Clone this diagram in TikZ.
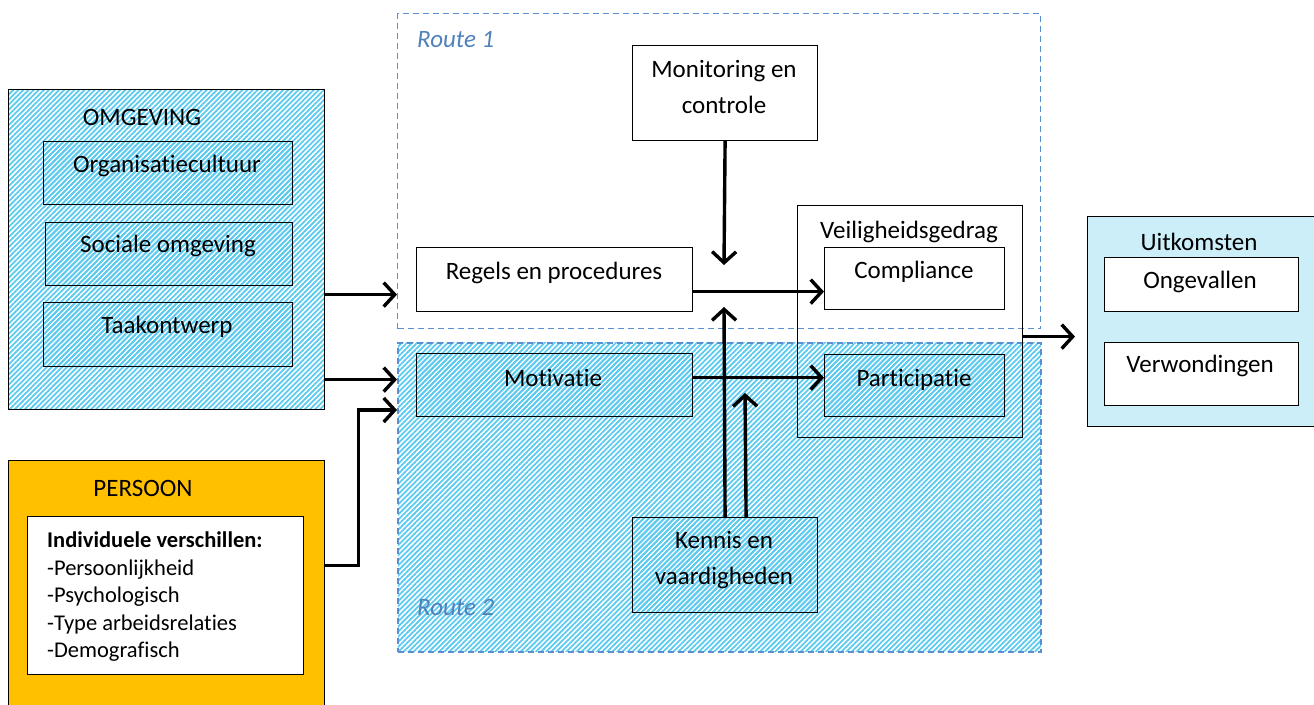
\documentclass[tikz,border=0pt]{standalone}
\usepackage{fontspec}
\setmainfont{Carlito}[RawFeature=-liga]
\usetikzlibrary{arrows.meta,patterns.meta}
\definecolor{hatchblue}{HTML}{5CCAEE}
\definecolor{routeblue}{HTML}{5B8FD2}
\definecolor{routetext}{HTML}{4F81BD}
\definecolor{persoonfill}{HTML}{FFC000}
\definecolor{uitfill}{HTML}{CCEEF9}
\tikzset{
  hatched/.style={pattern={Lines[angle=45,distance=3.6pt,line width=1.8pt]},pattern color=hatchblue},
  box/.style={draw=black,line width=1.2pt,inner sep=0pt,anchor=north west},
  whitebox/.style={box,fill=white},
  hatchbox/.style={box,hatched},
  routebox/.style={draw=routeblue,line width=1.3pt,dash pattern=on 6pt off 4pt,inner sep=0pt,anchor=north west},
  routelabel/.style={font=\fontsize{25}{30}\selectfont\itshape,text=routetext,anchor=west,inner sep=0pt},
  txt/.style={font=\fontsize{25}{36}\selectfont,inner sep=0pt},
  listtxt/.style={font=\fontsize{22.5}{27.5}\selectfont,inner sep=0pt,align=left,anchor=north west},
  flow/.style={line width=3.4pt,-{Straight Barb[length=11pt,width=24pt,line width=3.4pt]}},
}
% box node: style, x, y (top left), width, height, name
\newcommand{\bx}[6]{\node[#1,minimum width=#4pt,minimum height=#5pt] (#6) at (#2,#3) {};}
\begin{document}
\begin{tikzpicture}[x=1pt,y=-1pt]
\useasboundingbox (0,0) rectangle (1314,704);

% Route 2 (hatched) and Route 1 (open) regions
\bx{routebox,hatched}{397}{342}{643}{309}{r2}
\bx{routebox}{397}{13}{643}{315}{r1}
\node[routelabel] (r1lab) at (417,40) {Route 1};
\node[routelabel] (r2lab) at (417,607) {Route 2};

% OMGEVING group
\bx{hatchbox}{8}{89}{316}{320}{omg}
\node[txt] (omgt) at (142,117) {OMGEVING};
\bx{hatchbox}{43}{141}{249}{63}{org}
\node[txt] (orgt) at (167,166) {Organisatiecultuur};
\bx{hatchbox}{45}{222}{247}{63}{soc}
\node[txt] (soct) at (168,246) {Sociale omgeving};
\bx{hatchbox}{43}{302}{249}{64}{taak}
\node[txt] (taakt) at (167,327) {Taakontwerp};

% PERSOON group
\bx{box,fill=persoonfill}{8}{460}{316}{252}{pers}
\node[txt] (perst) at (143,488) {PERSOON};
\bx{whitebox}{27}{516}{276}{158}{ind}
\node[listtxt] (indt) at (47,532) {\textbf{Individuele verschillen:}\\-Persoonlijkheid\\-Psychologisch\\-Type arbeidsrelaties\\-Demografisch};

% Route boxes
\bx{whitebox}{632}{45}{185}{95}{mon}
\node[txt,align=center] (mont) at (724,87) {Monitoring en\\controle};
\bx{whitebox}{416}{247}{276}{64}{reg}
\node[txt] (regt) at (554,273) {Regels en procedures};
\bx{hatchbox}{416}{353}{276}{63}{mot}
\node[txt] (mott) at (553,378) {Motivatie};
\bx{hatchbox}{632}{517}{185}{95}{ken}
\node[txt,align=center] (kent) at (724,560) {Kennis en\\vaardigheden};

% Veiligheidsgedrag
\bx{box}{797}{205}{225}{232}{veil}
\node[txt] (veilt) at (909,232) {Veiligheidsgedrag};
\bx{whitebox}{824}{247}{180}{62}{comp}
\node[txt] (compt) at (914,272) {Compliance};
\bx{hatchbox}{824}{354}{180}{62}{part}
\node[txt] (partt) at (914,380) {Participatie};

% Uitkomsten
\bx{box,fill=uitfill}{1087}{216}{227}{210}{uit}
\node[txt] (uitt) at (1199,242) {Uitkomsten};
\bx{whitebox}{1104}{257}{194}{54}{ong}
\node[txt] (ongt) at (1200,282) {Ongevallen};
\bx{whitebox}{1104}{342}{194}{63}{ver}
\node[txt] (vert) at (1200,366) {Verwondingen};

% Connectors
\coordinate (montip) at (724,265);
\coordinate (kentip) at (724,307);
\coordinate (kentip2) at (745,393);
\draw[flow] ([yshift=-45pt]omg.east) -- ([yshift=-45pt]omg.east -| r1.west);
\draw[flow] ([yshift=-130pt]omg.east) -- ([yshift=-130pt]omg.east -| r2.west);
\draw[flow] ([yshift=21pt]pers.east) -- ++(33,0) |- ([yshift=-68pt]r2.north west);
\draw[flow] (mon.south) -- (montip);
\draw[flow] ([yshift=-12pt]reg.east) -- ([yshift=-12pt]reg.east -| comp.west);
\draw[flow] ([yshift=7.5pt]mot.east) -- ([yshift=7.5pt]mot.east -| part.west);
\draw[flow] (ken.north) -- (kentip);
\draw[flow] ([xshift=21pt]ken.north) -- (kentip2);
\draw[flow,shorten >=12pt] ([yshift=-15pt]veil.east) -- ([yshift=-15pt]veil.east -| uit.west);
\end{tikzpicture}
\end{document}
